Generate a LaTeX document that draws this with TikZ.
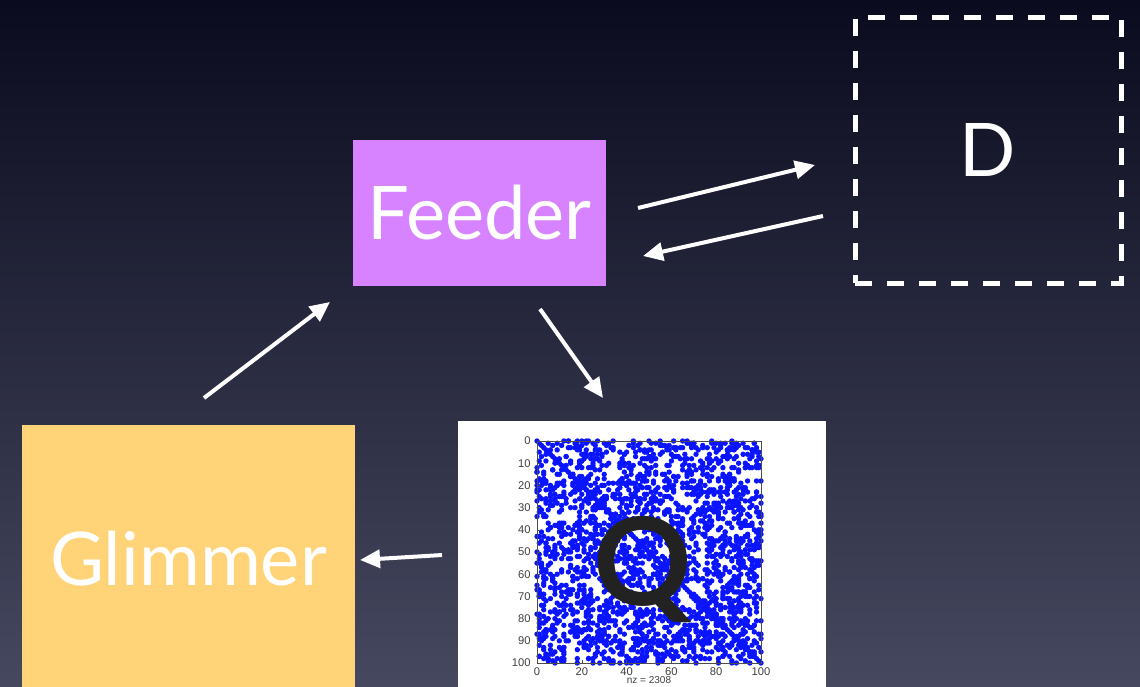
\documentclass[tikz,border=0pt]{standalone}
\usepackage{fontspec}
\setmainfont{Lato}
\newfontfamily\plotfont{Liberation Sans}
\usetikzlibrary{arrows.meta,calc}
\definecolor{bgtop}{HTML}{0A0B1E}
\definecolor{bgbottom}{HTML}{46485F}
\definecolor{feederfill}{HTML}{D783FF}
\definecolor{glimmerfill}{HTML}{FFD479}
\definecolor{dotblue}{HTML}{0A14FF}
\definecolor{qblack}{HTML}{222222}
\begin{document}
\begin{tikzpicture}[
    x=0.5pt, y=-0.5pt,
    block/.style={rectangle, inner sep=0pt, outer sep=0pt, anchor=north west, text=white, font=\fontsize{37}{42}\selectfont},
    dbox/.style={block, draw=white, line width=2.5pt, dash pattern=on 8.5pt off 7.5pt},
    arrow/.style={-{Triangle[length=10pt,width=9pt]}, white, line width=2pt},
    ticklabel/.style={inner sep=1pt, text=black!75, font=\plotfont\fontsize{5.6}{7}\selectfont},
    plotaxis/.style={draw=black!70, line width=0.3pt}
]
\useasboundingbox (0,0) rectangle (1140,686);
\clip (0,0) rectangle (1140,686);
\shade[top color=bgtop, bottom color=bgbottom] (0,0) rectangle (1140,686);

\node[block, fill=feederfill, minimum width=126.5pt, minimum height=73pt] (feeder) at (353,140) {Feeder};
\node[dbox, minimum width=133pt, minimum height=133pt] (dstore) at (855,17) {D};
\node[block, fill=glimmerfill, minimum width=166.5pt, minimum height=134pt] (glimmer) at (22,425) {Glimmer};
\node[block, fill=white, minimum width=184pt, minimum height=140pt] (qplot) at (458,421) {};

\begin{scope}[shift={(qplot.north west)}]
\begin{scope}[shift={(79,20)}, x=1.12pt, y=-1.11pt]
\pgfmathsetseed{2308}
\foreach \i in {1,...,1150} {
    \pgfmathsetmacro\mr{random(0,100)}
    \pgfmathsetmacro\mc{random(0,100)}
    \fill[dotblue] (\mc,\mr) circle (1.35pt) (\mr,\mc) circle (1.35pt);
}
\foreach \k in {0,...,100}
    \fill[dotblue] (\k,\k) circle (1.35pt);
\draw[plotaxis] (0,0) rectangle (100,100);
\foreach \t in {0,10,...,100} {
    \draw[plotaxis] (0,\t) -- (1.5,\t);
    \node[ticklabel, anchor=east] (ytick\t) at (-1.8,\t) {\t};
}
\foreach \t in {0,20,...,100} {
    \draw[plotaxis] (\t,100) -- (\t,98.5);
    \node[ticklabel, anchor=north] (xtick\t) at (\t,101.2) {\t};
}
\node[ticklabel, anchor=north, font=\plotfont\fontsize{5}{6}\selectfont] (nzlabel) at (50,105.2) {nz = 2308};
\node[anchor=base, inner sep=0pt, text=qblack, font=\bfseries\fontsize{61}{61}\selectfont] (qletter) at (47.3,74) {Q};
\end{scope}
\end{scope}

\draw[arrow] ($(feeder.east)+(32,-5)$) -- ($(dstore.west)+(-40,15)$);
\draw[arrow] ($(dstore.west)+(-32,66)$) -- ($(feeder.east)+(37,43)$);
\draw[arrow] ($(glimmer.north)+(15.5,-27)$) -- ($(feeder.south west)+(-23,16)$);
\draw[arrow] ($(feeder.south)+(60.5,23)$) -- ($(qplot.north)+(-39,-23)$);
\draw[arrow] ($(qplot.west)+(-16,-6)$) -- ($(glimmer.east)+(5,1)$);
\end{tikzpicture}
\end{document}
